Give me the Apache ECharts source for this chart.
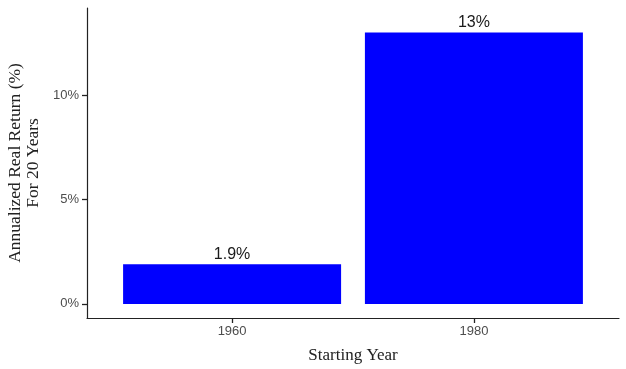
<!DOCTYPE html>
<html>
<head>
<meta charset="utf-8">
<script src="https://cdn.jsdelivr.net/npm/echarts@6/dist/echarts.min.js"></script>
<style>html,body{margin:0;padding:0;background:#fff}#c{width:626px;height:369px}</style>
</head>
<body>
<div id="c"></div>
<script>
const categories = ['1960', '1980'];
const values = [1.9, 13];
const valueLabels = ['1.9%', '13%'];
const yTicks = [0, 5, 10];
const yTickLabels = ['0%', '5%', '10%'];

const positions = categories.map((c, i) => i + 1);
const chart = echarts.init(document.getElementById('c'), null, {renderer: 'canvas'});
const sans = 'Liberation Sans';
const serif = 'Liberation Serif';
chart.setOption({
  animation: false,
  backgroundColor: '#fff',
  grid: {left: 87, right: 7, top: 8, bottom: 51, containLabel: false, outerBoundsMode: 'none'},
  xAxis: {
    type: 'value', min: 0.4, max: 2.6,
    name: 'Starting Year', nameLocation: 'middle', nameGap: 29,
    nameTextStyle: {fontFamily: serif, fontSize: 17, color: '#222'},
    axisLine: {show: true, onZero: false, lineStyle: {color: '#222', width: 1.2}},
    axisTick: {show: true, inside: false, length: 5, lineStyle: {color: '#222', width: 1.3}, customValues: positions},
    axisLabel: {customValues: positions, fontFamily: sans, fontSize: 13, color: '#4d4d4d', margin: 7,
      formatter: v => categories[Math.round(v) - 1] || ''},
    splitLine: {show: false}
  },
  yAxis: {
    type: 'value', min: -0.675, max: 14.175,
    name: 'Annualized Real Return (%)\nFor 20 Years', nameLocation: 'middle', nameGap: 45, nameRotate: 90,
    nameTextStyle: {fontFamily: serif, fontSize: 17.5, color: '#222', lineHeight: 18, align: 'center'},
    axisLine: {show: true, onZero: false, lineStyle: {color: '#222', width: 1.2}},
    axisTick: {show: true, inside: false, length: 5, lineStyle: {color: '#222', width: 1.3}, customValues: yTicks},
    axisLabel: {customValues: yTicks, fontFamily: sans, fontSize: 13, color: '#4d4d4d', margin: 8,
      formatter: v => { const i = yTicks.indexOf(Math.round(v)); return i >= 0 ? yTickLabels[i] : ''; }},
    splitLine: {show: false}
  },
  series: [{
    type: 'bar',
    barWidth: 218,
    data: values.map((v, i) => [positions[i], v]),
    itemStyle: {color: '#0000ff'},
    label: {show: true, position: 'top', distance: 2, fontFamily: sans, fontSize: 16, color: '#1a1a1a',
      formatter: p => valueLabels[p.dataIndex]}
  }]
});
</script>
</body>
</html>
